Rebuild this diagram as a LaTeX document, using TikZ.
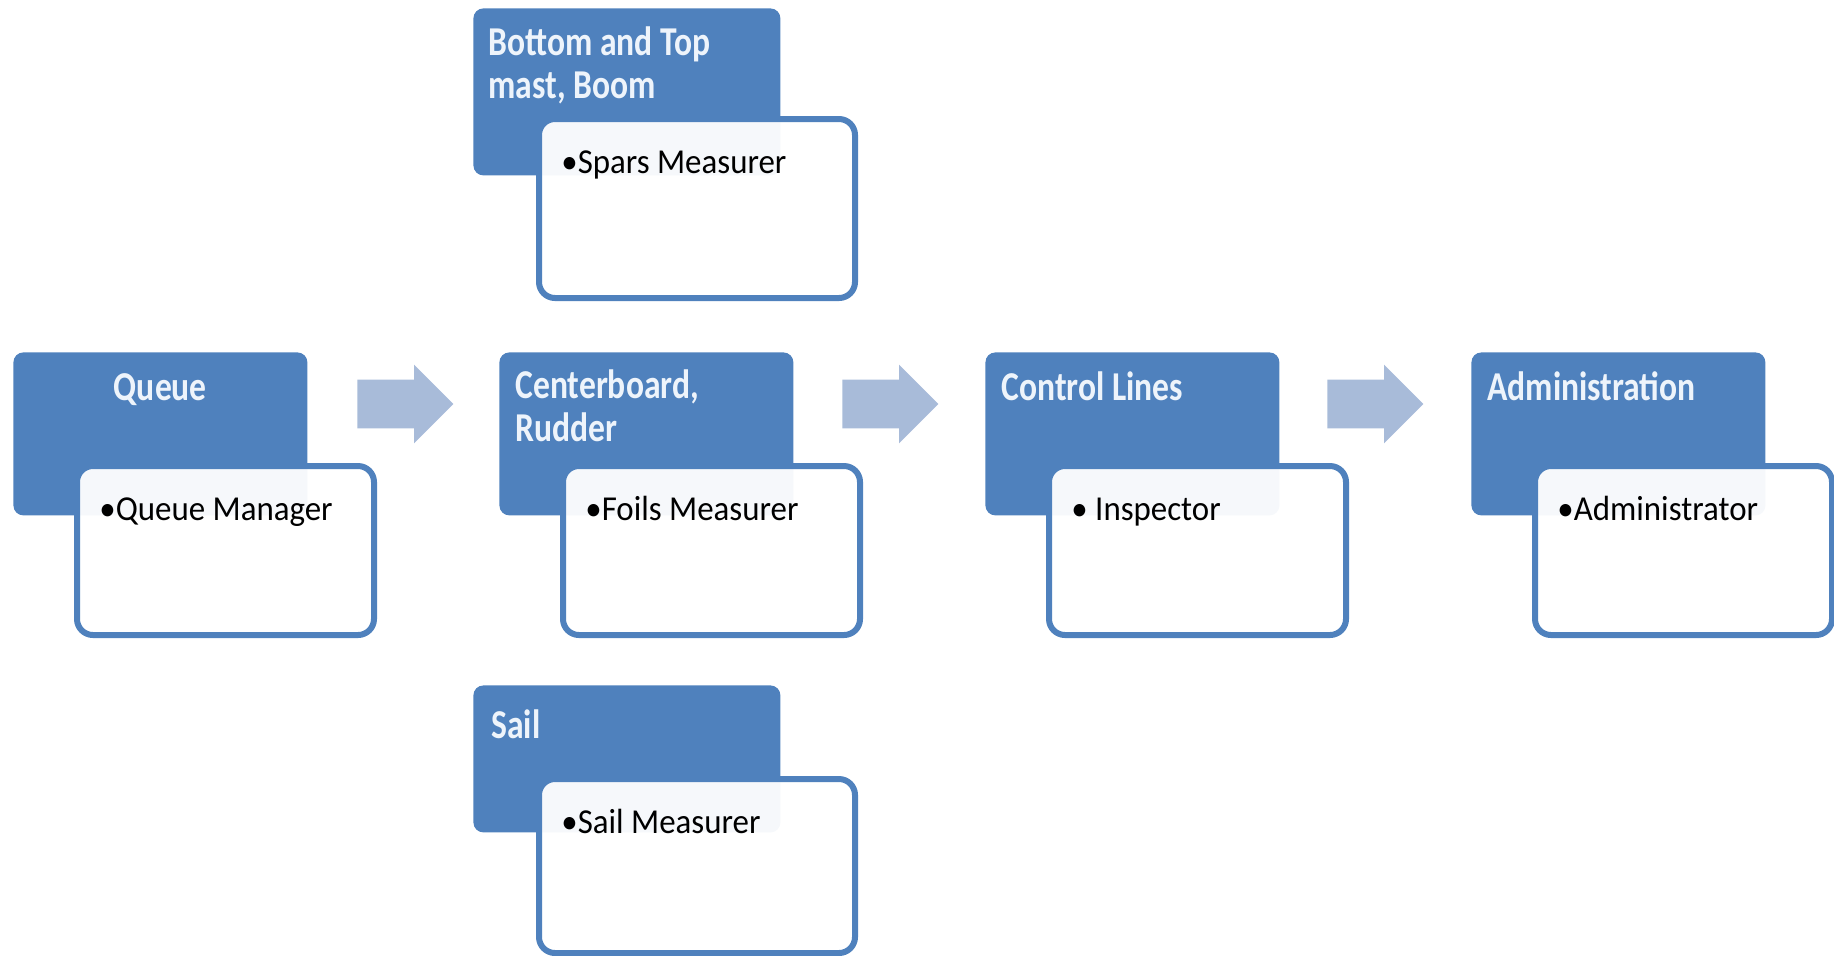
\documentclass[tikz,border=0pt]{standalone}
\usepackage{fontspec}
\setmainfont{Carlito}
\newfontfamily\headfont{Carlito}[FakeStretch=0.82]
\newfontfamily\rolefont{Carlito}[FakeStretch=0.94]
\usetikzlibrary{positioning, shapes.arrows}
\definecolor{headblue}{HTML}{4F81BD}
\definecolor{flowblue}{HTML}{A8BBD9}
\definecolor{headtextcol}{HTML}{EEF4FB}

\begin{document}
\begin{tikzpicture}[
        x=0.5pt, y=-0.5pt,
        headbox/.style={rectangle, rounded corners=5pt, fill=headblue, anchor=north west, inner sep=0pt},
        rolebox/.style={rectangle, rounded corners=8pt, draw=headblue, line width=3pt, fill=white, fill opacity=0.95, anchor=north west, inner sep=0pt},
        headtext/.style={anchor=base west, inner sep=0pt, align=left, text=headtextcol, font=\headfont\fontsize{20.5}{21.5}\selectfont\bfseries},
        roletext/.style={anchor=base west, inner sep=0pt, font=\rolefont\fontsize{17.5}{21}\selectfont},
        flow/.style={single arrow, fill=flowblue, inner xsep=0pt, inner ysep=12pt, minimum height=48pt, single arrow head extend=7.5pt, single arrow head indent=0pt, anchor=tail},
    ]
    \useasboundingbox (0,0) rectangle (1834,955);

    % spars (top)
    \node[headbox, minimum width=153.5pt, minimum height=83.5pt] (spars) at (473,8) {};
    \node[rolebox, minimum width=158pt, minimum height=89.5pt] (sparsrole) at (536,116) {};
    \node[headtext] (sparst) at ([shift={(15,90)}]spars.north west) {Bottom and Top\\mast, Boom};
    \node[roletext] (sparsr) at ([shift={(25,57)}]sparsrole.north west) {•Spars Measurer};

    % queue
    \node[headbox, minimum width=147pt, minimum height=81.5pt] (queue) at (13,352) {};
    \node[rolebox, minimum width=148.5pt, minimum height=84.5pt] (queuerole) at (74,463) {};
    \node[headtext, anchor=base] (queuet) at ([shift={(0,48)}]queue.north) {Queue};
    \node[roletext] (queuer) at ([shift={(25,57)}]queuerole.north west) {•Queue Manager};

    % foils
    \node[headbox, minimum width=147pt, minimum height=81.5pt] (foils) at (499,352) {};
    \node[rolebox, minimum width=148.5pt, minimum height=84.5pt] (foilsrole) at (560,463) {};
    \node[headtext] (foilst) at ([shift={(16,89)}]foils.north west) {Centerboard,\\Rudder};
    \node[roletext] (foilsr) at ([shift={(25,57)}]foilsrole.north west) {•Foils Measurer};

    % control lines
    \node[headbox, minimum width=147pt, minimum height=81.5pt] (lines) at (985,352) {};
    \node[rolebox, minimum width=148.5pt, minimum height=84.5pt] (linesrole) at (1046,463) {};
    \node[headtext] (linest) at ([shift={(16,48)}]lines.north west) {Control Lines};
    \node[roletext] (linesr) at ([shift={(25,57)}]linesrole.north west) {• Inspector};

    % administration
    \node[headbox, minimum width=147pt, minimum height=81.5pt] (admin) at (1471,352) {};
    \node[rolebox, minimum width=148.5pt, minimum height=84.5pt] (adminrole) at (1532,463) {};
    \node[headtext] (admint) at ([shift={(16,48)}]admin.north west) {Administration};
    \node[roletext] (adminr) at ([shift={(25,57)}]adminrole.north west) {•Administrator};

    % sail (bottom)
    \node[headbox, minimum width=153.5pt, minimum height=73.5pt] (sail) at (473,685) {};
    \node[rolebox, minimum width=158pt, minimum height=87pt] (sailrole) at (536,776) {};
    \node[headtext] (sailt) at ([shift={(18,53)}]sail.north west) {Sail};
    \node[roletext] (sailr) at ([shift={(25,57)}]sailrole.north west) {•Sail Measurer};

    % flow arrows
    \node[flow] (step1) at (357,404) {};
    \node[flow] (step2) at (842,404) {};
    \node[flow] (step3) at (1327,404) {};
\end{tikzpicture}
\end{document}
